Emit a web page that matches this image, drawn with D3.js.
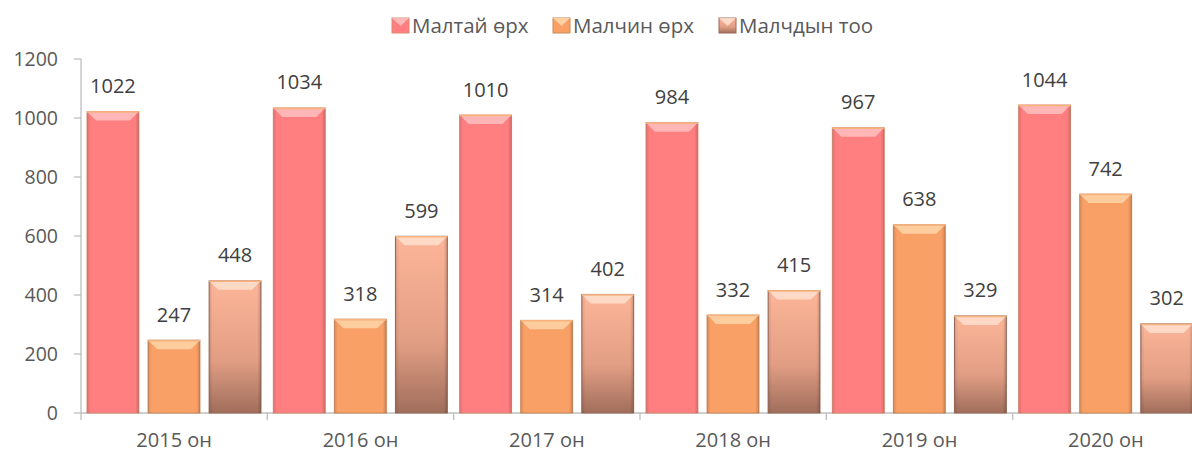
<!DOCTYPE html>
<html>
<head>
<meta charset="utf-8">
<script src="https://cdn.jsdelivr.net/npm/d3@7"></script>
<style>
    body { margin: 0; background: #fff; overflow: hidden; }
    svg text { font-family: "Open Sans", "Noto Sans", sans-serif; }
</style>
</head>
<body>
<svg id="chart" width="1192" height="453"></svg>
<script>
// chart data
const categories = ["2015 он", "2016 он", "2017 он", "2018 он", "2019 он", "2020 он"];
const seriesNames = ["Малтай өрх", "Малчин өрх", "Малчдын тоо"];
const maltaiOrh = [1022, 1034, 1010, 984, 967, 1044];
const malchinOrh = [247, 318, 314, 332, 638, 742];
const malchdynToo = [448, 599, 402, 415, 329, 302];
const yTicks = [0, 200, 400, 600, 800, 1000, 1200];

const seriesValues = [maltaiOrh, malchinOrh, malchdynToo];

const svg = d3.select("#chart");
const margin = {top: 59, left: 81, bottom: 40};
// the plot area runs a bit past the right edge in the reference
const width = 1118;
const height = +svg.attr("height") - margin.top - margin.bottom;

const defs = svg.append("defs");

const styles = [
    {fill: "#ff7f80", bevel: "#ffc8c8", edge: "#d98a70"},
    {fill: "#f9a066", bevel: "#ffdcb2", edge: "#c98a5c"},
    {fill: "url(#grad3)", bevel: "#ffe6d6", edge: "#9a6a58"}
];

const g3 = defs.append("linearGradient").attr("id", "grad3")
    .attr("x1", 0).attr("y1", 0).attr("x2", 0).attr("y2", 1);
g3.append("stop").attr("offset", "0%").attr("stop-color", "#fcb598");
g3.append("stop").attr("offset", "60%").attr("stop-color", "#e29e84");
g3.append("stop").attr("offset", "100%").attr("stop-color", "#a06e5c");

// side shading to fake the bevel
const side = defs.append("linearGradient").attr("id", "side")
    .attr("x1", 0).attr("y1", 0).attr("x2", 1).attr("y2", 0);
side.append("stop").attr("offset", "0%").attr("stop-color", "#000").attr("stop-opacity", 0.12);
side.append("stop").attr("offset", "7%").attr("stop-color", "#000").attr("stop-opacity", 0);
side.append("stop").attr("offset", "93%").attr("stop-color", "#000").attr("stop-opacity", 0);
side.append("stop").attr("offset", "100%").attr("stop-color", "#000").attr("stop-opacity", 0.18);

const x0 = d3.scaleBand().domain(categories).range([0, width]);
const x1 = d3.scaleBand().domain(d3.range(seriesNames.length)).range([6, 180])
    .paddingInner(0.15).paddingOuter(0);
const y = d3.scaleLinear().domain([0, 1200]).range([height, 0]);

const chart = svg.append("g").attr("transform", "translate(" + margin.left + "," + margin.top + ")");

// axes
const bandStep = x0.step();
const xAxis = chart.append("g").attr("transform", "translate(0," + height + ")");
xAxis.append("line").attr("x1", 0).attr("x2", width).attr("stroke", "#bfbfbf").attr("stroke-width", 1.3);
xAxis.selectAll(".tk").data(d3.range(categories.length + 1)).enter().append("line")
    .attr("x1", d => d * bandStep).attr("x2", d => d * bandStep)
    .attr("y1", 0).attr("y2", 7).attr("stroke", "#bfbfbf").attr("stroke-width", 1.3);
xAxis.selectAll("text").data(categories).enter().append("text")
    .attr("x", d => x0(d) + bandStep / 2).attr("y", 34)
    .attr("text-anchor", "middle").attr("font-size", 20).attr("fill", "#595959")
    .text(d => d);

const yAxis = chart.append("g");
yAxis.append("line").attr("x1", 0).attr("x2", 0).attr("y1", 0).attr("y2", height)
    .attr("stroke", "#bfbfbf").attr("stroke-width", 1.3);
yAxis.selectAll(".tk").data(yTicks).enter().append("line")
    .attr("x1", -7).attr("x2", 0).attr("y1", d => y(d)).attr("y2", d => y(d))
    .attr("stroke", "#bfbfbf").attr("stroke-width", 1.3);
yAxis.selectAll("text").data(yTicks).enter().append("text")
    .attr("x", -23).attr("y", d => y(d)).attr("dy", "0.36em")
    .attr("text-anchor", "end").attr("font-size", 19.5).attr("fill", "#595959")
    .text(d => d);

// bars
const rows = [];
categories.forEach((c, ci) => {
    seriesValues.forEach((vals, si) => rows.push({cat: c, s: si, v: vals[ci]}));
});

const bars = chart.selectAll(".bar").data(rows).enter().append("g")
    .attr("class", "bar")
    .attr("transform", d => "translate(" + (x0(d.cat) + x1(d.s)) + ",0)");

const bw = x1.bandwidth();
bars.append("rect")
    .attr("x", 0).attr("y", d => y(d.v)).attr("width", bw).attr("height", d => height - y(d.v))
    .attr("fill", d => styles[d.s].fill)
    .attr("stroke", d => styles[d.s].edge).attr("stroke-width", 1);
bars.append("rect")
    .attr("x", 0).attr("y", d => y(d.v)).attr("width", bw).attr("height", d => height - y(d.v))
    .attr("fill", "url(#side)");
// top chamfer
bars.append("path")
    .attr("d", d => {
        let t = y(d.v);
        return "M0," + t + "L" + bw + "," + t + "L" + (bw - 9) + "," + (t + 9) + "L9," + (t + 9) + "Z";
    })
    .attr("fill", d => styles[d.s].bevel).attr("opacity", 0.75);
bars.append("line")
    .attr("x1", 0).attr("x2", bw).attr("y1", d => y(d.v) + 0.5).attr("y2", d => y(d.v) + 0.5)
    .attr("stroke", "#f7b27e").attr("stroke-width", 1.5);

// value labels
bars.append("text")
    .attr("x", bw / 2).attr("y", d => y(d.v) - 18.5)
    .attr("text-anchor", "middle").attr("font-size", 20).attr("fill", "#404040")
    .text(d => d.v);

// legend
const legendX = [392, 553, 719];
const legend = svg.append("g");
seriesNames.forEach((name, i) => {
    let lg = legend.append("g").attr("transform", "translate(" + legendX[i] + ",18)");
    lg.append("rect").attr("width", 17).attr("height", 15)
        .attr("fill", styles[i].fill).attr("stroke", styles[i].edge);
    lg.append("path").attr("d", "M0,0L17,0L8.5,8Z").attr("fill", styles[i].bevel).attr("opacity", 0.8);
    lg.append("text").attr("x", 20).attr("y", 7.5).attr("dy", "0.36em")
        .attr("font-size", 20.5).attr("fill", "#595959").text(name);
});
</script>
</body>
</html>
